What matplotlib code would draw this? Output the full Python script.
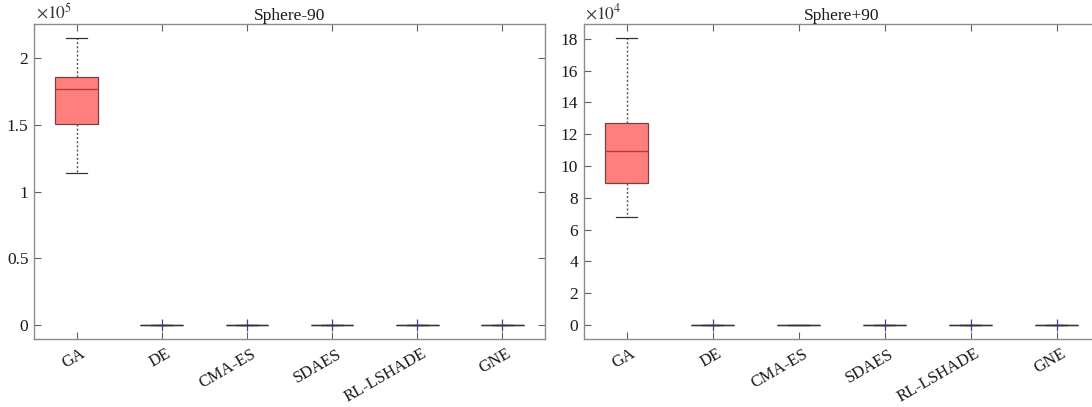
import matplotlib
matplotlib.use("Agg")
import matplotlib.pyplot as plt
from matplotlib.transforms import ScaledTranslation

plt.rcParams['font.family'] = ['Liberation Serif', 'DejaVu Serif']
plt.rcParams['mathtext.fontset'] = 'stix'

algorithms = ['GA', 'DE', 'CMA-ES', 'SDAES', 'RL-LSHADE', 'GNE']

# Sphere-90 (values in units of 1e5)
left_whislo = [1.14, 0, 0, 0, 0, 0]
left_q1 = [1.506, 0, 0, 0, 0, 0]
left_med = [1.77, 0, 0, 0, 0, 0]
left_q3 = [1.857, 0, 0, 0, 0, 0]
left_whishi = [2.15, 0, 0, 0, 0, 0]
left_fliers = [[], [0.0], [0.0], [0.0], [0.0], [0.0]]

# Sphere+90 (values in units of 1e4)
right_whislo = [6.8, 0, 0, 0, 0, 0]
right_q1 = [8.95, 0, 0, 0, 0, 0]
right_med = [10.95, 0, 0, 0, 0, 0]
right_q3 = [12.7, 0, 0, 0, 0, 0]
right_whishi = [18.05, 0, 0, 0, 0, 0]
right_fliers = [[], [0.0], [], [0.0], [0.0], [0.0]]

left_yticks = [0, 0.5, 1, 1.5, 2]
left_yticklabels = ['0', '0.5', '1', '1.5', '2']
right_yticks = [0, 2, 4, 6, 8, 10, 12, 14, 16, 18]
right_yticklabels = [str(v) for v in right_yticks]

fig = plt.figure(figsize=(10.92, 4.07), dpi=100)
ax1 = fig.add_axes([34 / 1092, 1 - 339 / 407, 511 / 1092, 315 / 407])
ax2 = fig.add_axes([583.6 / 1092, 1 - 339 / 407, 516 / 1092, 315 / 407])

spine_col = '#8c8c8c'
box_fill = '#ff7f7f'
box_edge = '#7a4040'
med_col = '#b23a3a'
text_col = '#1a1a1a'


def draw(ax, whislo, q1, med, q3, whishi, fliers, title, ylim, yticks, yticklabels, exp):
    stats = []
    for i in range(len(algorithms)):
        stats.append(dict(whislo=whislo[i], q1=q1[i], med=med[i], q3=q3[i],
                          whishi=whishi[i], fliers=fliers[i], label=algorithms[i]))
    bp = ax.bxp(stats, positions=range(1, len(algorithms) + 1), widths=0.5,
                patch_artist=True, showfliers=True,
                boxprops=dict(facecolor=box_fill, edgecolor=box_edge, linewidth=0.9),
                medianprops=dict(color=med_col, linewidth=1.0),
                whiskerprops=dict(color='#555555', linestyle=(0, (1.5, 1.5)), linewidth=1.0),
                capprops=dict(color='#333333', linewidth=0.9),
                flierprops=dict(marker='+', markeredgecolor='#4040a0', markersize=8,
                                markeredgewidth=0.9, linestyle='none'))
    for i, b in enumerate(bp['boxes']):
        if q3[i] - q1[i] == 0:
            b.set_edgecolor('#333333')
    for i, m in enumerate(bp['medians']):
        if q3[i] - q1[i] == 0:
            m.set_color('#333333')
    ax.set_xlim(0.5, 6.5)
    ax.set_ylim(*ylim)
    ax.set_yticks(yticks)
    ax.set_yticklabels(yticklabels, fontsize=12.5)
    ax.set_xticks(range(1, len(algorithms) + 1))
    ax.set_xticklabels(algorithms, rotation=30, fontsize=12, ha='right',
                       rotation_mode='anchor', va='top')
    ax.tick_params(direction='in', top=True, right=True, length=5, color='#606060',
                   width=0.8, labelcolor=text_col, pad=4)
    ax.tick_params(axis='x', pad=5)
    off = ScaledTranslation(4 / 100, 0, fig.dpi_scale_trans)
    for lab in ax.get_xticklabels():
        lab.set_transform(lab.get_transform() + off)
    for s in ax.spines.values():
        s.set_color(spine_col)
        s.set_linewidth(1.0)
    ax.set_title(title, fontsize=12.5, color=text_col, pad=3)
    ax.text(0.003, 1.004, r'$\times 10^{%d}$' % exp, transform=ax.transAxes,
            fontsize=12.5, color='#333333', ha='left', va='bottom')


draw(ax1, left_whislo, left_q1, left_med, left_q3, left_whishi, left_fliers,
     'Sphere-90', (-0.105, 2.255), left_yticks, left_yticklabels, 5)
draw(ax2, right_whislo, right_q1, right_med, right_q3, right_whishi, right_fliers,
     'Sphere+90', (-0.88, 18.93), right_yticks, right_yticklabels, 4)

fig.savefig('out.png', dpi=100)
